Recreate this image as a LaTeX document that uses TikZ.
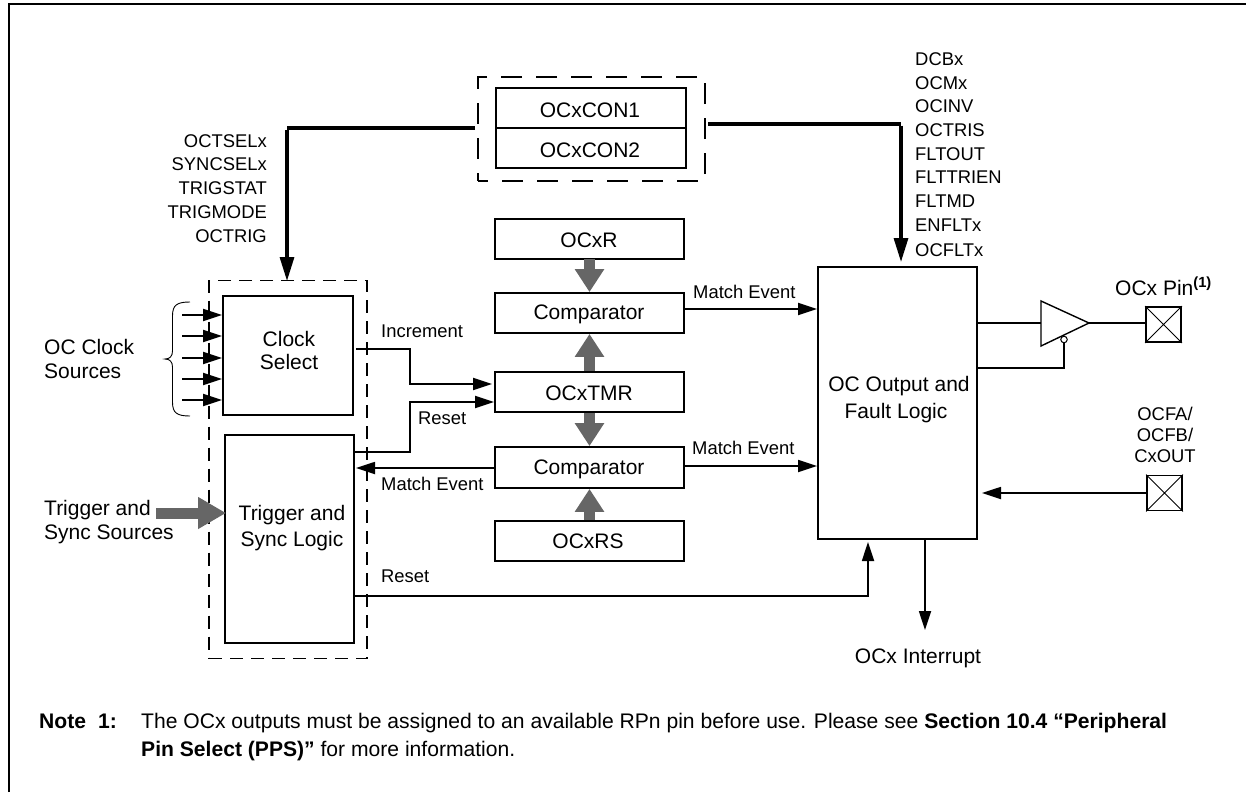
\documentclass[tikz,border=0pt]{standalone}
\usepackage{fontspec}
\setmainfont{Liberation Sans}
\usetikzlibrary{arrows.meta}
\definecolor{busgray}{HTML}{666666}
\tikzset{
  box/.style={draw=black,line width=1.8pt,fill=none,inner sep=0pt,font=\fontsize{21}{24}\selectfont},
  boxtxt/.style={inner sep=0pt,text height=15pt,text depth=0pt,font=\fontsize{21}{24}\selectfont},
  lbl/.style={inner sep=0pt,text height=13.2pt,text depth=0pt,font=\fontsize{18.4}{22}\selectfont},
  notetxt/.style={inner sep=0pt,text height=15pt,text depth=0pt,anchor=west,font=\fontsize{21.1}{24}\selectfont},
  dashbox/.style={draw=black,line width=1.8pt,inner sep=0pt},
  conn/.style={draw=black,line width=1.8pt},
  arr/.style={conn,-{Triangle[length=19pt,width=12pt]}},
  thickarr/.style={draw=black,line width=3.2pt,-{Triangle[length=24pt,width=14pt]}},
  bus/.style={draw=busgray,line width=11pt,-{Triangle[length=23pt,width=28pt]}},
  pin/.style={draw=black,line width=1.8pt,inner sep=0pt,minimum width=35pt,minimum height=35pt},
}
\begin{document}
\begin{tikzpicture}[x=1pt,y=-1pt]
\useasboundingbox (0,0) rectangle (1246,792);
% frame
\coordinate (fa) at (9,792); \coordinate (fb) at (9,4); \coordinate (fc) at (1246,4);
\draw[black,line width=2pt] (fa) -- (fb) -- (fc);

% dashed groups
\node[dashbox,dash pattern=on 21pt off 14pt,dash phase=11pt,minimum width=227pt,minimum height=104pt] (topdash) at (591.5,129) {};
\node[dashbox,dash pattern=on 13pt off 8pt,minimum width=158pt,minimum height=378pt] (leftdash) at (288,469.5) {};

% boxes
\node[box,minimum width=190pt,minimum height=40pt] (con1) at (591,108) {};
\node[box,minimum width=190pt,minimum height=40pt] (con2) at (591,148) {};
\node[box,minimum width=189pt,minimum height=40pt] (ocxr) at (589.5,239) {};
\node[box,minimum width=189pt,minimum height=40pt] (cmpa) at (589.5,313) {};
\node[box,minimum width=189pt,minimum height=40pt] (tmr) at (589.5,392) {};
\node[box,minimum width=189pt,minimum height=41pt] (cmpb) at (589.5,467.5) {};
\node[box,minimum width=189pt,minimum height=40pt] (rs) at (589.5,541) {};
\node[box,minimum width=130pt,minimum height=119pt] (clock) at (288,355.5) {};
\node[box,minimum width=129pt,minimum height=208pt] (trig) at (289.5,539) {};
\node[box,minimum width=159pt,minimum height=272pt] (ocout) at (897.5,403) {};
\node[pin] (pina) at (1163.5,324.5) {};
\node[pin] (pinb) at (1164.5,493) {};
\draw[line width=1pt] (pina.north west) -- (pina.south east) (pina.north east) -- (pina.south west);
\draw[line width=1pt] (pinb.north west) -- (pinb.south east) (pinb.north east) -- (pinb.south west);

% box texts
\node[boxtxt] (t1) at (590,110) {OCxCON1};
\node[boxtxt] (t2) at (590,150) {OCxCON2};
\node[boxtxt] (t3) at (589,240) {OCxR};
\node[boxtxt] (t4) at (589,312) {Comparator};
\node[boxtxt] (t5) at (589,393) {OCxTMR};
\node[boxtxt] (t6) at (589,467) {Comparator};
\node[boxtxt] (t7) at (588,541) {OCxRS};
\node[boxtxt] (t8) at (289,339) {Clock};
\node[boxtxt] (t9) at (289,362) {Select};
\node[boxtxt] (t10) at (292,513) {Trigger and};
\node[boxtxt] (t11) at (292,539) {Sync Logic};
\node[boxtxt] (t12) at (899,384) {OC Output and};
\node[boxtxt] (t13) at (896,411) {Fault Logic};
\node[boxtxt,anchor=west] (t14) at (44,347) {OC Clock};
\node[boxtxt,anchor=west] (t15) at (44,371) {Sources};
\node[boxtxt,anchor=west] (t16) at (44,508) {Trigger and};
\node[boxtxt,anchor=west] (t17) at (44,532) {Sync Sources};
\node[boxtxt] (t18) at (918,656) {OCx Interrupt};
\node[boxtxt,anchor=west] (t19) at (1115,288) {OCx Pin\textsuperscript{\textbf{(1)}}};

% control-bit labels
\node[lbl,anchor=east] (l1) at (267,141) {OCTSELx};
\node[lbl,anchor=east] (l2) at (267,164) {SYNCSELx};
\node[lbl,anchor=east] (l3) at (267,188) {TRIGSTAT};
\node[lbl,anchor=east] (l4) at (267,212) {TRIGMODE};
\node[lbl,anchor=east] (l5) at (267,236) {OCTRIG};
\node[lbl,anchor=west] (r1) at (915,59) {DCBx};
\node[lbl,anchor=west] (r2) at (915,83) {OCMx};
\node[lbl,anchor=west] (r3) at (915,106) {OCINV};
\node[lbl,anchor=west] (r4) at (915,130) {OCTRIS};
\node[lbl,anchor=west] (r5) at (915,154) {FLTOUT};
\node[lbl,anchor=west] (r6) at (915,177) {FLTTRIEN};
\node[lbl,anchor=west] (r7) at (915,201) {FLTMD};
\node[lbl,anchor=west] (r8) at (915,225) {ENFLTx};
\node[lbl,anchor=west] (r9) at (915,250) {OCFLTx};

\node[lbl,anchor=west] (e1) at (381,331) {Increment};
\node[lbl,anchor=west] (e2) at (418,418) {Reset};
\node[lbl,anchor=west] (e3) at (381,484) {Match Event};
\node[lbl,anchor=west] (e4) at (381,576) {Reset};
\node[lbl,anchor=west] (e5) at (693,292) {Match Event};
\node[lbl,anchor=west] (e6) at (692,448) {Match Event};
\node[lbl] (f1) at (1165,414) {OCFA/};
\node[lbl] (f2) at (1165,435) {OCFB/};
\node[lbl] (f3) at (1165,456) {CxOUT};

% note
\node[notetxt] (n0) at (39,720.5) {\textbf{Note\hspace{12pt}1:}};
\node[notetxt] (n1) at (141,720.5) {The OCx outputs must be assigned to an available RPn pin before use. Please see \textbf{Section 10.4 “Peripheral}};
\node[notetxt] (n2) at (141,748.5) {\textbf{Pin Select (PPS)”} for more information.};

% thick register lines
\coordinate (lc) at (287,128);
\coordinate (lt) at (287,281);
\coordinate (rs0) at (708,124);
\coordinate (rc) at (901,124);
\coordinate (rt) at (901,262);
\draw[draw=black,line width=3.2pt,shorten <=2pt] (topdash.west |- lc) -- (lc);
\draw[thickarr] ([yshift=-1.6pt]lc) -- (lt);
\draw[draw=black,line width=3.2pt] (rs0) -- (rc);
\draw[thickarr] ([yshift=-1.6pt]rc) -- (rt);

% gray buses
\draw[bus,shorten <=-1pt] (ocxr.south) -- (cmpa.north);
\draw[bus] (tmr.north) -- (cmpa.south);
\draw[bus] (tmr.south) -- (cmpb.north);
\draw[bus] (rs.north) -- (cmpb.south);
\coordinate (tsrc) at (156,513);
\draw[draw=busgray,line width=11pt,shorten >=-2pt,-{Triangle[length=28pt,width=30pt]}] (tsrc) -- (tsrc -| trig.west);

% clock inputs
\foreach \n/\yy in {a/315,b/336,c/358,d/379,e/400}{
  \coordinate (ci\n) at (182,\yy);
  \draw[arr] (ci\n) -- (ci\n -| clock.west);
}
% brace
\coordinate (ba) at (190,302); \coordinate (bb) at (190,416); \coordinate (bt) at (165,359);
\draw[black,line width=0.9pt] (ba) .. controls (177,302) and (172.5,305) .. (172.5,316) -- (172.5,351)
  .. controls (172.5,356) and (170,359) .. (bt)
  .. controls (170,359) and (172.5,362) .. (172.5,367) -- (172.5,402)
  .. controls (172.5,413) and (177,416) .. (bb);

% signal connectors
\coordinate (ia) at (356,349); \coordinate (ib) at (410,349); \coordinate (ic) at (410,384); \coordinate (id) at (492,384);
\draw[arr] (ia) -- (ib) -- (ic) -- (id);
\coordinate (ra) at (355,452); \coordinate (rb) at (410,452); \coordinate (rcc) at (410,402);
\draw[arr] (ra) -- (rb) -- (rcc) -- (rcc -| tmr.west);
\coordinate (ma) at (495,468);
\coordinate (mb) at (356,468);
\draw[arr] (ma) -- (mb);
\coordinate (mc) at (684,309);
\draw[arr] (mc) -- (mc -| ocout.west);
\coordinate (md) at (684,466);
\draw[arr] (md) -- (md -| ocout.west);
\coordinate (sa) at (354,596); \coordinate (sb) at (868,596); \coordinate (sc) at (868,542);
\draw[arr] (sa) -- (sb) -- (sc);
\coordinate (ia2) at (925,539); \coordinate (ib2) at (925,630);
\draw[arr] (ia2) -- (ib2);
\coordinate (fp) at (982,493);
\draw[arr] (pinb.west) -- (fp);

% output buffer
\coordinate (ba1) at (1041,301); \coordinate (ba2) at (1041,346); \coordinate (ba3) at (1089,323);
\draw[black,line width=1.4pt,line join=miter] (ba1) -- (ba3) -- (ba2) -- cycle;
\node[draw=black,fill=white,circle,line width=1pt,inner sep=0pt,minimum size=6.5pt] (bub) at (1064,339.5) {};
\coordinate (oa) at (977,323);
\draw[conn] (oa) -- (oa -| ba1);
\draw[conn] (ba3) -- (pina.west |- ba3);
\coordinate (ob) at (1064,368); \coordinate (oc) at (977,368);
\draw[conn] (bub.south) -- (ob) -- (oc);
\end{tikzpicture}
\end{document}
